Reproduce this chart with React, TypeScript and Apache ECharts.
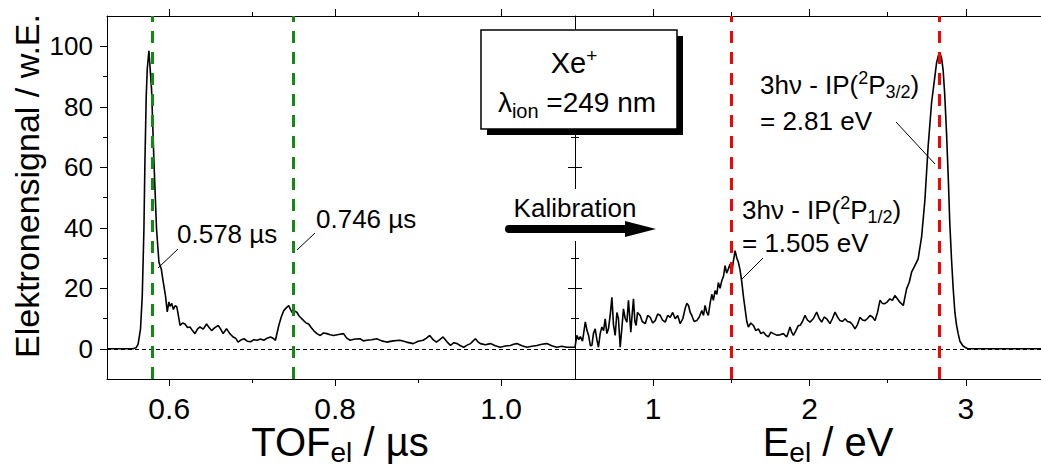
import React, { useEffect, useRef } from 'react';
import * as echarts from 'echarts';

const FONT = '"Liberation Sans", Arial, Helvetica, sans-serif';

// TOF spectrum (µs, signal)
const tofData: number[][] = [
  [0.525, 0], [0.556, 0], [0.56, 0.3], [0.5625, 1.5], [0.5654, 6.6], [0.5675, 17.5], [0.5695, 39.6],
  [0.5707, 61.7], [0.5723, 83.6], [0.5735, 92.4], [0.5755, 98.5], [0.5787, 85.8], [0.5816, 61.7],
  [0.5847, 39.6], [0.5876, 28.6], [0.5904, 26.4], [0.5928, 22], [0.5955, 17.5], [0.5976, 12.2],
  [0.5996, 15.5], [0.601, 14], [0.603, 15], [0.605, 13], [0.607, 14.2], [0.609, 14], [0.611, 11],
  [0.613, 7.7], [0.616, 8.5], [0.619, 8.2], [0.622, 7], [0.625, 7.2], [0.628, 6], [0.631, 5],
  [0.634, 6.5], [0.637, 7.2], [0.641, 6.5], [0.645, 8.2], [0.648, 7], [0.651, 6], [0.655, 7],
  [0.659, 7.7], [0.662, 6.5], [0.665, 5], [0.669, 6.6], [0.673, 5], [0.677, 3.9], [0.68, 3.5],
  [0.683, 2.2], [0.687, 3], [0.69, 3.3], [0.694, 2.5], [0.698, 2.3], [0.702, 3], [0.706, 2.8],
  [0.71, 3.2], [0.714, 2.8], [0.718, 3.5], [0.722, 3.9], [0.725, 3.5], [0.728, 2.8], [0.732, 7.7],
  [0.735, 10.5], [0.738, 12.6], [0.741, 13.5], [0.744, 14.3], [0.746, 13], [0.748, 12], [0.751, 12.5],
  [0.754, 12], [0.756, 11], [0.758, 10.4], [0.762, 9.3], [0.765, 8.5], [0.768, 8.2], [0.771, 7],
  [0.774, 6], [0.778, 5], [0.782, 4.4], [0.786, 5.2], [0.79, 5], [0.794, 4.6], [0.798, 4.4],
  [0.804, 4.7], [0.81, 5], [0.814, 3.5], [0.818, 2.8], [0.824, 3.2], [0.83, 3.3], [0.834, 2.6],
  [0.838, 2.8], [0.844, 3], [0.85, 3.3], [0.856, 2.6], [0.862, 2.2], [0.87, 2.6], [0.878, 2.8],
  [0.886, 2.2], [0.894, 1.7], [0.9, 2.5], [0.906, 2.8], [0.91, 3.5], [0.914, 4.4], [0.918, 3],
  [0.922, 2.2], [0.926, 3], [0.93, 3.9], [0.935, 2.2], [0.939, 1.1], [0.943, 2], [0.947, 1.7],
  [0.951, 1], [0.955, 0.5], [0.959, 1.2], [0.963, 1.7], [0.966, 2.5], [0.969, 3.3], [0.972, 2.3],
  [0.975, 1.7], [0.981, 1.3], [0.987, 1.7], [0.993, 1], [0.999, 0.5], [1.005, 0.9], [1.011, 1.1],
  [1.015, 1.5], [1.019, 1.7], [1.025, 1], [1.031, 0.5], [1.037, 0.8], [1.043, 1.1], [1.049, 1.5],
  [1.055, 1.7], [1.061, 1], [1.067, 0.5], [1.073, 0.8], [1.079, 0.5], [1.083, 0.5], [1.089, 0.5],
];

// Energy spectrum (eV, signal)
const energyData: number[][] = [
  [0.5, 0.5], [0.512, 4.4], [0.524, 3], [0.534, 4], [0.548, 2.5], [0.566, 8.9], [0.577, 6], [0.587, 4.4],
  [0.598, 1], [0.608, 1.1], [0.618, 5], [0.629, 6.6], [0.64, 3], [0.65, 0.5], [0.661, 5], [0.672, 7.2],
  [0.683, 6], [0.693, 9.9], [0.704, 5], [0.714, 6.6], [0.725, 11], [0.736, 17], [0.746, 8], [0.757, 4.4],
  [0.768, 12], [0.778, 9.9], [0.789, 0.5], [0.8, 7], [0.81, 13.2], [0.821, 10], [0.832, 8.8], [0.842, 16],
  [0.852, 9], [0.857, 5.5], [0.865, 11], [0.874, 16.5], [0.883, 9], [0.891, 7.7], [0.9, 12], [0.917, 11],
  [0.93, 9], [0.949, 8.3], [0.965, 11], [0.981, 10.4], [0.997, 8.5], [1.013, 9.3], [1.029, 11.5],
  [1.045, 11], [1.06, 9.5], [1.077, 8.8], [1.093, 11], [1.109, 10.4], [1.125, 12], [1.141, 9.9],
  [1.157, 11], [1.173, 8.3], [1.19, 10], [1.204, 13.2], [1.215, 15], [1.226, 14.3], [1.237, 12],
  [1.247, 11], [1.262, 9], [1.279, 9.3], [1.295, 10.5], [1.311, 12.6], [1.322, 11], [1.332, 14.3],
  [1.343, 12], [1.353, 11], [1.364, 15], [1.375, 18], [1.385, 16], [1.396, 19.2], [1.407, 18],
  [1.417, 21.9], [1.428, 20], [1.439, 22.5], [1.45, 24], [1.46, 27.5], [1.47, 25], [1.481, 26.4],
  [1.492, 28], [1.503, 24.8], [1.513, 29], [1.524, 32.4], [1.535, 30], [1.545, 28.6], [1.556, 26],
  [1.567, 22], [1.578, 17], [1.588, 13.2], [1.599, 9], [1.609, 7.2], [1.625, 8.5], [1.641, 7.7],
  [1.657, 6], [1.673, 6.6], [1.689, 5], [1.705, 5.5], [1.721, 4.5], [1.737, 3.9], [1.753, 5.5],
  [1.769, 5], [1.79, 4.5], [1.811, 4.6], [1.833, 5], [1.854, 3.9], [1.865, 5.5], [1.875, 7.2],
  [1.886, 5.5], [1.897, 4.4], [1.913, 6], [1.929, 7.7], [1.94, 7.7], [1.955, 9], [1.971, 11],
  [1.987, 9.5], [2.003, 8.8], [2.025, 10], [2.046, 12.1], [2.062, 10], [2.078, 8.8], [2.094, 10.5],
  [2.11, 9.9], [2.131, 8.3], [2.147, 10], [2.163, 12.1], [2.179, 10.5], [2.195, 9.3], [2.211, 9],
  [2.227, 9.9], [2.243, 9], [2.259, 8.8], [2.275, 8], [2.291, 6.6], [2.307, 8], [2.323, 10.4],
  [2.339, 9.5], [2.355, 9.3], [2.371, 10], [2.387, 11], [2.403, 10.5], [2.419, 9.3], [2.435, 12],
  [2.451, 16], [2.466, 15], [2.482, 14.9], [2.498, 15.5], [2.514, 16.5], [2.53, 16], [2.546, 17.6],
  [2.562, 16.5], [2.578, 15.4], [2.6, 14.3], [2.621, 19.8], [2.638, 22], [2.653, 25.3], [2.674, 27.5],
  [2.695, 29.7], [2.717, 37], [2.738, 49], [2.759, 67], [2.781, 81.4], [2.797, 88], [2.813, 94.6],
  [2.825, 97], [2.834, 97.8], [2.845, 96], [2.855, 92], [2.865, 84], [2.876, 72], [2.888, 56],
  [2.897, 42], [2.908, 30], [2.919, 20], [2.93, 12], [2.94, 8], [2.951, 5], [2.962, 2.5], [2.981, 1],
  [3.0, 0.3], [3.013, 0], [3.5, 0],
];

const tofPeaks = [0.578, 0.746];
const energyPeaks = [1.505, 2.833];
const yMajor = [0, 20, 40, 60, 80, 100];
const yMinor = [10, 30, 50, 70, 90];
const tofMajor = [0.6, 0.8, 1.0];
const tofMinor = [0.7, 0.9];
const eMajor = [1, 2, 3];
const eMinor = [1.5, 2.5];

const TOF_MIN = 0.525, TOF_MAX = 1.089;
const E_MIN = 0.5, E_MAX = 3.5;
const Y_MIN = -10, Y_MAX = 110;

function xAxis(grid: number, position: string, min: number, max: number, ticks: number[], len: number, opts: any = {}) {
  return {
    type: 'value', gridIndex: grid, position, min, max,
    axisLine: { show: opts.line ?? false, onZero: false, lineStyle: { color: '#000', width: 1 } },
    axisTick: { show: true, inside: false, length: len, customValues: ticks, lineStyle: { color: '#000', width: 1 } },
    axisLabel: opts.labels
      ? { show: true, customValues: opts.labels, formatter: opts.fmt, fontSize: 30, fontFamily: FONT, color: '#000', margin: 14 }
      : { show: false },
    splitLine: { show: false },
  };
}

function yAxis(grid: number, ticks: number[], len: number, inside: boolean, opts: any = {}) {
  return {
    type: 'value', gridIndex: grid, position: 'left', min: Y_MIN, max: Y_MAX,
    axisLine: { show: opts.line ?? false, onZero: false, lineStyle: { color: '#000', width: 1 } },
    axisTick: { show: true, inside, length: len, customValues: ticks, lineStyle: { color: '#000', width: 1 } },
    axisLabel: opts.labels
      ? { show: true, customValues: opts.labels, fontSize: 26, fontFamily: FONT, color: '#000', margin: 14 }
      : { show: false },
    splitLine: { show: false },
  };
}

function richStyles(F: number, s: number, up: number, down: number, T: number) {
  const base = { fontFamily: FONT, color: '#000', verticalAlign: 'top' };
  return {
    b: { ...base, fontSize: F, lineHeight: F, padding: [T, 0, 0, 0] },
    sup: { ...base, fontSize: s, lineHeight: s, padding: [T + F / 2 - s / 2 - up, 0, 0, 0] },
    sub: { ...base, fontSize: s, lineHeight: s, padding: [T + F / 2 - s / 2 + down, 0, 0, 0] },
  };
}

// rich text whose main-line centre lies at cy
function richText(x: number, cy: number, text: string, F: number, s: number, up: number, down: number, align = 'left', z = 120) {
  const T = 12;
  return {
    type: 'text', x, y: cy - T - F / 2, z,
    style: { text, align, verticalAlign: 'top', rich: richStyles(F, s, up, down, T), fontFamily: FONT, fontSize: F, fill: '#000' },
  };
}

function plainText(x: number, cy: number, text: string, F: number, align = 'left', z = 120) {
  return {
    type: 'text', x, y: cy, z,
    style: { text, align, verticalAlign: 'middle', fontFamily: FONT, fontSize: F, fill: '#000' },
  };
}

function leader(x1: number, y1: number, x2: number, y2: number) {
  return { type: 'line', z: 120, shape: { x1, y1, x2, y2 }, style: { stroke: '#000', lineWidth: 1 } };
}

function vLines(values: number[], color: string) {
  return values.map((v) => ({ xAxis: v, lineStyle: { color, width: 3, type: [12, 9] } }));
}

export default function App() {
  const ref = useRef<HTMLDivElement>(null);
  useEffect(() => {
    if (!ref.current) return;
    const chart = echarts.init(ref.current, undefined, { renderer: 'svg' });
    const zeroLine = { yAxis: 0, lineStyle: { color: '#000', width: 1, type: [4, 3] } };
    const option: any = {
      animation: false,
      backgroundColor: '#fff',
      grid: [
        { left: 107, top: 16, width: 468, height: 363, outerBoundsMode: 'none' },
        { left: 575, top: 16, width: 469, height: 363, outerBoundsMode: 'none' },
      ],
      xAxis: [
        xAxis(0, 'bottom', TOF_MIN, TOF_MAX, tofMajor, 7, { line: true, labels: tofMajor, fmt: (v: number) => v.toFixed(1) }),
        xAxis(0, 'bottom', TOF_MIN, TOF_MAX, tofMinor, 4),
        xAxis(0, 'top', TOF_MIN, TOF_MAX, tofMajor, 7, { line: true }),
        xAxis(0, 'top', TOF_MIN, TOF_MAX, tofMinor, 4),
        xAxis(1, 'bottom', E_MIN, E_MAX, eMajor, 7, { line: true, labels: eMajor, fmt: (v: number) => String(v) }),
        xAxis(1, 'bottom', E_MIN, E_MAX, eMinor, 4),
        xAxis(1, 'top', E_MIN, E_MAX, eMajor, 7, { line: true }),
        xAxis(1, 'top', E_MIN, E_MAX, eMinor, 4),
      ],
      yAxis: [
        yAxis(0, yMajor, 7, false, { line: true, labels: yMajor }),
        yAxis(0, yMinor, 4, false),
        yAxis(1, yMajor, 7, true, { line: true }),
        yAxis(1, yMajor, 7, false),
        yAxis(1, yMinor, 4, true),
        yAxis(1, yMinor, 4, false),
      ],
      series: [
        {
          type: 'line', xAxisIndex: 0, yAxisIndex: 0, data: tofData, showSymbol: false, symbol: 'none',
          lineStyle: { color: '#000', width: 1.6 }, silent: true, z: 3,
          markLine: { silent: true, symbol: ['none', 'none'], label: { show: false }, z: 5,
            data: [zeroLine, ...vLines(tofPeaks, '#138a13')] },
        },
        {
          type: 'line', xAxisIndex: 4, yAxisIndex: 2, data: energyData, showSymbol: false, symbol: 'none',
          lineStyle: { color: '#000', width: 1.6 }, silent: true, z: 3,
          markLine: { silent: true, symbol: ['none', 'none'], label: { show: false }, z: 5,
            data: [zeroLine, ...vLines(energyPeaks, '#ff0000')] },
        },
      ],
      graphic: [
        // Xe+ box with shadow
        { type: 'rect', z: 110, shape: { x: 487, y: 36, width: 196, height: 99 }, style: { fill: '#000' } },
        { type: 'rect', z: 111, shape: { x: 481, y: 30, width: 196, height: 99 }, style: { fill: '#fff', stroke: '#000', lineWidth: 1.5 } },
        richText(574, 63, '{b|Xe}{sup|+}', 29, 19, 8, 9, 'center', 112),
        richText(577, 102, '{b|λ}{sub|ion}{b| =249 nm}', 28, 20, 8, 9, 'center', 112),
        // Kalibration arrow
        { type: 'rect', z: 105, shape: { x: 504, y: 189, width: 154, height: 52 }, style: { fill: '#fff' } },
        plainText(575, 208, 'Kalibration', 26, 'center'),
        { type: 'line', z: 120, shape: { x1: 509, y1: 229, x2: 628, y2: 229 }, style: { stroke: '#000', lineWidth: 8, lineCap: 'round' } },
        { type: 'polygon', z: 120, shape: { points: [[625, 221], [656, 229], [625, 237]] }, style: { fill: '#000' } },
        // peak labels
        plainText(177, 234, '0.578 µs', 26),
        leader(158, 268, 178, 249),
        plainText(316, 219, '0.746 µs', 26),
        leader(297, 250, 315, 233),
        richText(760, 85, '{b|3hν - IP(}{sup|2}{b|P}{sub|3/2}{b|)}', 26, 18, 7, 7),
        plainText(760, 121, '= 2.81 eV', 26),
        leader(896, 122, 935, 164),
        richText(742, 210, '{b|3hν - IP(}{sup|2}{b|P}{sub|1/2}{b|)}', 26, 18, 7, 7),
        plainText(742, 243, '= 1.505 eV', 26),
        leader(763, 258, 741, 280),
        // axis titles
        {
          type: 'text', x: 27, y: 186, rotation: Math.PI / 2, z: 120,
          style: { text: 'Elektronensignal / w.E.', align: 'center', verticalAlign: 'middle', fontFamily: FONT, fontSize: 34, fill: '#000' },
        },
        richText(340, 442, '{b|TOF}{sub|el}{b| / µs}', 40, 28, 10, 10, 'center'),
        richText(828, 442, '{b|E}{sub|el}{b| / eV}', 40, 28, 10, 10, 'center'),
      ],
    };
    chart.setOption(option);
    return () => chart.dispose();
  }, []);
  return (
    <div
      ref={ref}
      style={{ position: 'fixed', left: 0, top: 0, width: 1041, height: 468, background: '#fff' }}
    />
  );
}
